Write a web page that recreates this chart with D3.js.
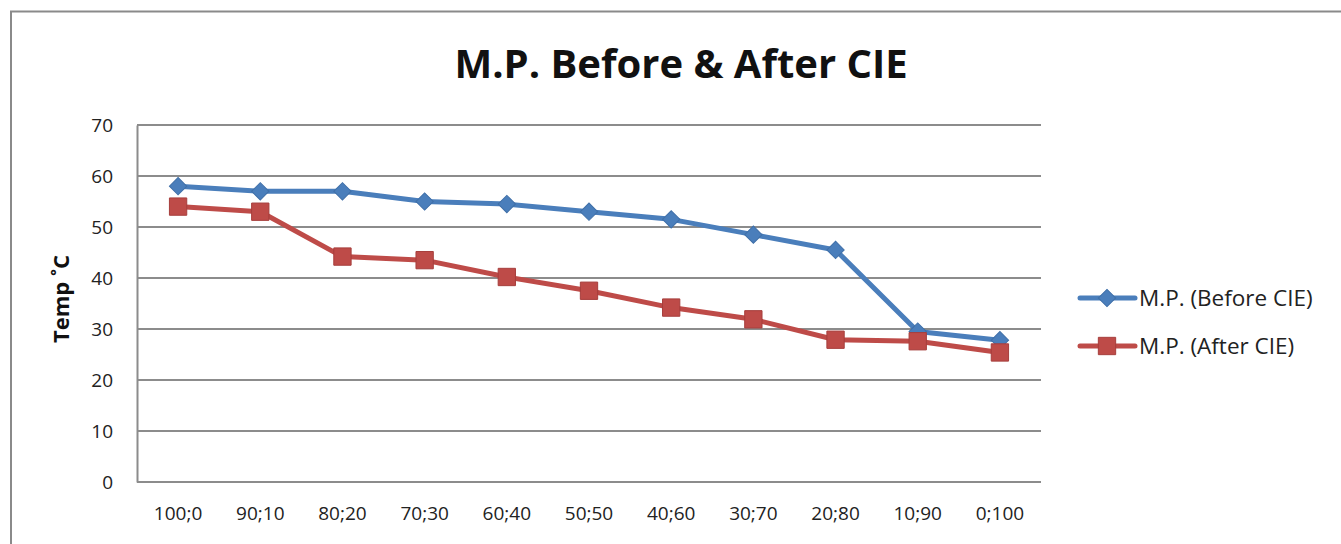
<!DOCTYPE html>
<html>
<head>
<meta charset="utf-8">
<script src="https://cdn.jsdelivr.net/npm/d3@7"></script>
<style>
  body { margin: 0; background: #fff; }
  svg { display: block; font-family: "Open Sans", Lato, sans-serif; }
</style>
</head>
<body>
<svg id="chart" width="1341" height="544"></svg>
<script>
// chart data
var categories = ["100;0", "90;10", "80;20", "70;30", "60;40", "50;50", "40;60", "30;70", "20;80", "10;90", "0;100"];
var beforeValues = [58, 57, 57, 55, 54.5, 53, 51.5, 48.5, 45.5, 29.5, 27.8];
var afterValues = [54, 53, 44.2, 43.5, 40.2, 37.5, 34.2, 31.9, 27.9, 27.6, 25.4];
var yTicks = [0, 10, 20, 30, 40, 50, 60, 70];
var seriesNames = ["M.P. (Before CIE)", "M.P. (After CIE)"];

var svg = d3.select("#chart");

// outer chart frame
svg.append("path")
    .attr("d", "M11,544 V11.5 H1341")
    .attr("fill", "none")
    .attr("stroke", "#8a8a8a")
    .attr("stroke-width", 2);

var plotLeft = 137, plotRight = 1041, plotTop = 125, plotBottom = 482;

var xScale = d3.scaleBand()
    .domain(categories)
    .range([plotLeft, plotRight]);

var yScale = d3.scaleLinear()
    .domain([0, 70])
    .range([plotBottom, plotTop]);

// gridlines
svg.append("g")
    .selectAll("line")
    .data(yTicks)
    .enter().append("line")
    .attr("x1", plotLeft)
    .attr("x2", plotRight)
    .attr("y1", function (d) { return yScale(d); })
    .attr("y2", function (d) { return yScale(d); })
    .attr("stroke", "#8c8c8c")
    .attr("stroke-width", 2);

// y axis
var yAxis = d3.axisLeft(yScale).tickValues(yTicks).tickSize(0).tickPadding(24);
var yG = svg.append("g")
    .attr("transform", "translate(" + plotLeft + ",0)")
    .call(yAxis)
    .attr("font-family", null);
yG.select(".domain").attr("stroke", "#8c8c8c").attr("stroke-width", 2);
yG.selectAll("text").attr("font-size", 19).attr("fill", "#222");

// x axis
var xAxis = d3.axisBottom(xScale).tickSize(0).tickPadding(25);
var xG = svg.append("g")
    .attr("transform", "translate(0," + plotBottom + ")")
    .call(xAxis)
    .attr("font-family", null);
xG.select(".domain").remove();
xG.selectAll("text").attr("font-size", 19).attr("fill", "#222");

// title
svg.append("text")
    .attr("x", 681)
    .attr("y", 78)
    .attr("text-anchor", "middle")
    .attr("font-size", 40)
    .attr("font-weight", "bold")
    .attr("fill", "#111")
    .text("M.P. Before & After CIE");

// y axis title
svg.append("text")
    .attr("transform", "translate(69,299) rotate(-90)")
    .attr("text-anchor", "middle")
    .attr("font-size", 22)
    .attr("font-weight", "bold")
    .attr("fill", "#111")
    .text("Temp ˚C");

var colors = ["#4a7ebb", "#be4b48"];
var edges = ["#3f6fa8", "#a63e3c"];
var markSizes = [150, 300];

var line = d3.line()
    .x(function (d, i) { return xScale(categories[i]) + xScale.bandwidth() / 2; })
    .y(function (d) { return yScale(d); });

function drawSeries(values, idx) {
    var g = svg.append("g");
    g.append("path")
        .datum(values)
        .attr("d", line)
        .attr("fill", "none")
        .attr("stroke", colors[idx])
        .attr("stroke-width", 5)
        .attr("stroke-linejoin", "round");
    g.selectAll("path.mark")
        .data(values)
        .enter().append("path")
        .attr("class", "mark")
        .attr("d", d3.symbol().type(d3.symbolSquare).size(markSizes[idx]))
        .attr("transform", function (d, i) {
            var x = xScale(categories[i]) + xScale.bandwidth() / 2;
            return "translate(" + x + "," + yScale(d) + ")" + (idx === 0 ? " rotate(45)" : "");
        })
        .attr("fill", colors[idx])
        .attr("stroke", edges[idx])
        .attr("stroke-width", 1);
}

drawSeries(beforeValues, 0);
drawSeries(afterValues, 1);

// legend
var legend = svg.append("g");
[0, 1].forEach(function (idx) {
    var y = 298 + idx * 48;
    legend.append("line")
        .attr("x1", 1080).attr("x2", 1135)
        .attr("y1", y).attr("y2", y)
        .attr("stroke", colors[idx])
        .attr("stroke-width", 5)
        .attr("stroke-linecap", "round");
    legend.append("path")
        .attr("d", d3.symbol().type(d3.symbolSquare).size(markSizes[idx]))
        .attr("transform", "translate(1107," + y + ")" + (idx === 0 ? " rotate(45)" : ""))
        .attr("fill", colors[idx])
        .attr("stroke", edges[idx]);
    legend.append("text")
        .attr("x", 1139)
        .attr("y", y + 8)
        .attr("font-size", 22.5)
        .attr("fill", "#222")
        .text(seriesNames[idx]);
});
</script>
</body>
</html>
